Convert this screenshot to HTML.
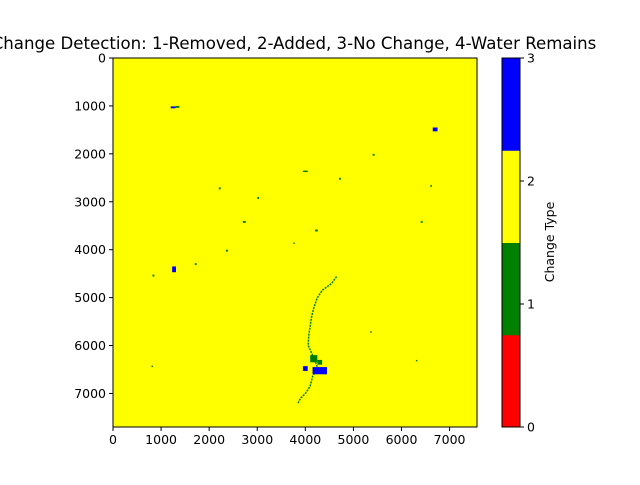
<!DOCTYPE html>
<html><head><meta charset="utf-8"><style>
body{margin:0;background:#fff;}
svg text{font-family:"DejaVu Sans","Liberation Sans",sans-serif;fill:#000;}
</style></head><body>
<svg id="c" width="640" height="480" viewBox="0 0 640 480">
<text x="294" y="49" font-size="16.6" text-anchor="middle">Change Detection: 1-Removed, 2-Added, 3-No Change, 4-Water Remains</text>
<g id="img"></g>
<g id="ax"></g>
<g id="cb"></g>
</svg>
<script>
const xTicks=[0,1000,2000,3000,4000,5000,6000,7000];
const yTicks=[0,1000,2000,3000,4000,5000,6000,7000];
const cbTicks=[0,1,2,3];
const cbColors=["#ff0000","#008000","#ffff00","#0000ff"];
const blobX=[1200,1300,6650,1230,4150,3950,4300,5400,2200,2700,4700,3000,3950,4200,820,1700,6600,6400,800,6300,5350,2350,3750,4100,4250];
const blobY=[1010,1000,1450,4350,6450,6430,6500,2000,2700,3400,2500,2900,2350,3580,4520,4280,2650,3400,6420,6300,5700,4000,3850,6200,6300];
const blobW=[100,80,100,80,300,100,100,40,40,60,40,40,100,60,40,40,30,40,30,30,30,40,30,150,100];
const blobH=[40,40,80,120,150,100,80,40,40,40,40,40,30,40,40,40,40,40,30,30,30,40,30,150,100];
const blobC=[3,1,3,3,3,3,3,1,1,1,1,1,1,1,1,1,1,1,1,1,1,1,1,1,1];
const riverX=[4650,4550,4350,4250,4180,4130,4100,4070,4060,4150,4250,4150,4100,4000,3900,3850];
const riverY=[4560,4700,4850,5000,5200,5400,5600,5800,6000,6200,6450,6650,6850,7000,7100,7200];
const W=7570,H=7700,L=113,T=58,PW=364,PH=369;
const sx=v=>L+v/W*PW, sy=v=>T+v/H*PH;
const NS="http://www.w3.org/2000/svg";
function mk(t,a,p){const e=document.createElementNS(NS,t);for(const k in a)e.setAttribute(k,a[k]);p.appendChild(e);return e;}
const img=document.getElementById('img'),ax=document.getElementById('ax'),cb=document.getElementById('cb');
let bg=mk('rect',{x:L,y:T,width:PW,height:PH,fill:cbColors[2]},img);


let d=riverX.map((v,i)=>(i?'L':'M')+sx(v)+' '+sy(riverY[i])).join(' ');
let rv=mk('path',{d:d,stroke:cbColors[1],'stroke-width':1.5,fill:'none','stroke-dasharray':'2 1'},img);


blobX.forEach((v,i)=>{
  let r=mk('rect',{x:sx(v),y:sy(blobY[i]),width:Math.max(1,blobW[i]/W*PW),height:Math.max(1,blobH[i]/H*PH),fill:cbColors[blobC[i]]},img);
  
  
});
let fr=mk('rect',{x:L,y:T,width:PW,height:PH,fill:'none',stroke:'#000','stroke-width':1},ax);


xTicks.forEach(v=>{
  mk('line',{x1:sx(v),x2:sx(v),y1:T+PH,y2:T+PH+4,stroke:'#000'},ax);
  let t=mk('text',{x:sx(v),y:T+PH+17,'font-size':12.5,'text-anchor':'middle'},ax);t.textContent=v;
  
  
});
yTicks.forEach(v=>{
  mk('line',{x1:L-4,x2:L,y1:sy(v),y2:sy(v),stroke:'#000'},ax);
  let t=mk('text',{x:L-7,y:sy(v)+4.5,'font-size':12.5,'text-anchor':'end'},ax);t.textContent=v;
  
  
});
const CX=502,CW=18,n=cbColors.length,ch=PH/n;
cbColors.forEach((c,i)=>{
  let r=mk('rect',{x:CX,y:T+PH-(i+1)*ch,width:CW,height:ch+0.5,fill:c},cb);
  
  
});
mk('rect',{x:CX,y:T,width:CW,height:PH,fill:'none',stroke:'#000'},cb);
cbTicks.forEach(v=>{
  const y=T+PH-v/3*PH;
  mk('line',{x1:CX+CW,x2:CX+CW+4,y1:y,y2:y,stroke:'#000'},cb);
  let t=mk('text',{x:CX+CW+7,y:y+4.5,'font-size':12.5},cb);t.textContent=v;
  
  
});
let lb=mk('text',{x:0,y:0,'font-size':12.5,'text-anchor':'middle',transform:'translate(554,242) rotate(-90)'},cb);
lb.textContent='Change Type';


</script>
</body></html>
